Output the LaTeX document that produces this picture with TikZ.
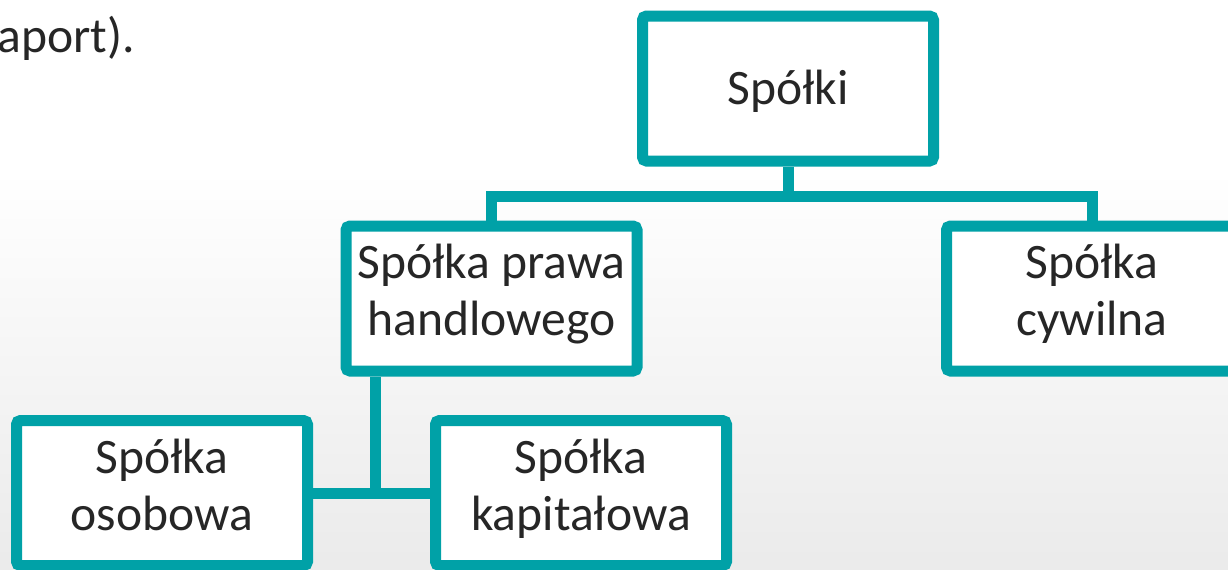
\documentclass[tikz,border=0pt]{standalone}
\usepackage{fontspec}
\setmainfont{Carlito}
\usepackage{xcolor}
\usetikzlibrary{positioning}

\definecolor{boxteal}{RGB}{0,161,167}
\definecolor{boxtext}{RGB}{38,38,38}

\begin{document}
\begin{tikzpicture}[
    x=0.5pt, y=-0.5pt,
    box/.style={rectangle, draw=boxteal, line width=5.5pt, fill=white, rounded corners=2pt,
        minimum width=145.5pt, minimum height=72.5pt, inner sep=0pt, align=center,
        text=boxtext, font=\fontsize{24.8}{28.5}\selectfont,
        execute at begin node={\rule{0pt}{25pt}}, execute at end node=\strut},
    link/.style={draw=boxteal, line width=5.5pt}
]

% background
\useasboundingbox (0,0) rectangle (1228,569);
\clip (0,0) rectangle (1228,569);
\fill[white] (0,0) rectangle (1228,171);
\shade[top color=white, bottom color=white!92!black] (0,170) rectangle (1228,569);

% text cut off at the slide edge
\node[anchor=base west, inner sep=0pt, text=boxtext, font=\fontsize{24.8}{29}\selectfont] (intro) at (-3,52) {aport).};

% boxes
\node[box] (spolki) at (788,88.5) {Spółki};
\node[box] (prawa) at (491.5,298.5) {Spółka prawa\\handlowego};
\node[box] (cywilna) at (1092,298.5) {Spółka\\cywilna};
\node[box] (osobowa) at (162,493) {Spółka\\osobowa};
\node[box] (kapitalowa) at (581,493) {Spółka\\kapitałowa};

% connectors
\coordinate (bar) at (788,196);
\coordinate (hub) at (375,493);
\draw[link] (spolki.south) -- (bar);
\draw[link] (prawa.north) |- (bar) -| (cywilna.north);
\draw[link] (prawa.south -| hub) -- (hub);
\draw[link] (osobowa.east) -- (kapitalowa.west);

\end{tikzpicture}
\end{document}
